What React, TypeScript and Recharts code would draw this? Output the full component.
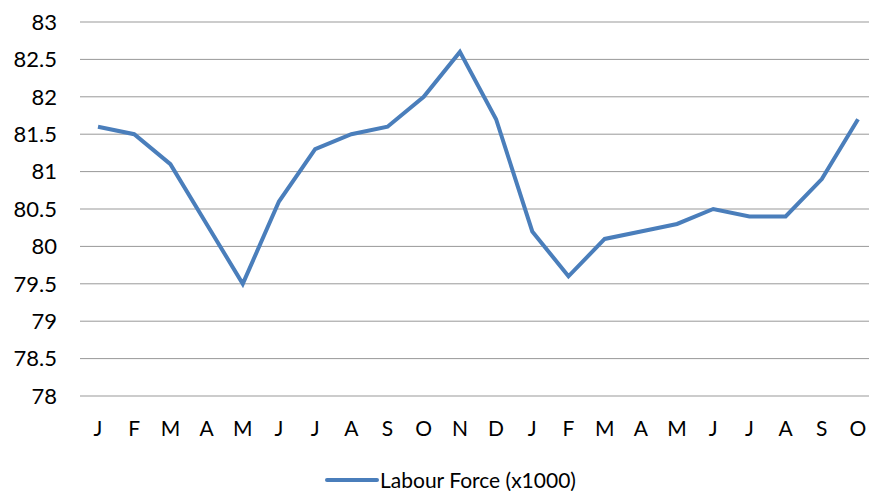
import { LineChart, Line, XAxis, YAxis, CartesianGrid, Legend } from 'recharts';

// Monthly labour force (x1000), two calendar years of months
const months = ['J', 'F', 'M', 'A', 'M', 'J', 'J', 'A', 'S', 'O', 'N', 'D', 'J', 'F', 'M', 'A', 'M', 'J', 'J', 'A', 'S', 'O'];
const labourForce = [81.6, 81.5, 81.1, 80.3, 79.5, 80.6, 81.3, 81.5, 81.6, 82.0, 82.6, 81.7, 80.2, 79.6, 80.1, 80.2, 80.3, 80.5, 80.4, 80.4, 80.9, 81.7];
const yTicks = [78, 78.5, 79, 79.5, 80, 80.5, 81, 81.5, 82, 82.5, 83];

const data = months.map((m, i) => ({ id: i, month: m, value: labourForce[i] }));

const font = 'Lato, "Open Sans", sans-serif';
const lineColor = '#4A7EBB';

const LegendContent = () => (
  <div style={{ display: 'flex', alignItems: 'center', fontFamily: font, fontSize: 21, lineHeight: '20px', color: '#000' }}>
    <svg width={55} height={8}>
      <line x1={2} y1={4} x2={52} y2={4} stroke={lineColor} strokeWidth={4} strokeLinecap="round" />
    </svg>
    <span>Labour Force (x1000)</span>
  </div>
);

const App = () => {
  return (
    <div style={{ position: 'fixed', left: 0, top: 0, width: 869, height: 491, overflow: 'hidden', background: '#fff' }}>
      <LineChart width={869} height={491} data={data} margin={{ top: 22, right: 0, left: 0, bottom: 25 }}>
        <CartesianGrid vertical={false} stroke="#999999" strokeWidth={1} />
        <XAxis
          dataKey="id"
          tickFormatter={(i: number) => months[i]}
          axisLine={false}
          tickLine={false}
          tickSize={0}
          tickMargin={25}
          height={50}
          interval={0}
          padding={{ left: 18, right: 11 }}
          tick={{ fill: '#000', fontSize: 21, fontFamily: font }}
        />
        <YAxis
          domain={[78, 83]}
          ticks={yTicks}
          axisLine={false}
          tickLine={false}
          tickSize={0}
          tickMargin={23}
          width={80}
          tick={{ fill: '#000', fontSize: 22, fontFamily: font }}
        />
        <Legend
          verticalAlign="bottom"
          content={<LegendContent />}
          wrapperStyle={{ left: 325, top: 470, width: 'auto' }}
        />
        <Line
          type="linear"
          dataKey="value"
          name="Labour Force (x1000)"
          stroke={lineColor}
          strokeWidth={4}
          dot={false}
          isAnimationActive={false}
        />
      </LineChart>
    </div>
  );
};

export default App;
